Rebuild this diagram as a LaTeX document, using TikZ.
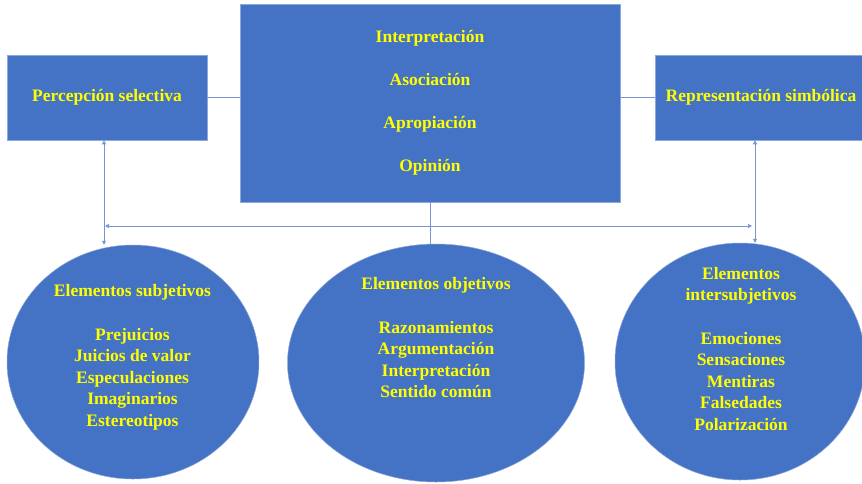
\documentclass[tikz,border=0pt]{standalone}
\usepackage{fontspec}
\setmainfont{Liberation Serif}
\usetikzlibrary{shapes.geometric,arrows.meta}
\definecolor{boxblue}{HTML}{4472C4}
\definecolor{edgeblue}{HTML}{8FA8DA}
\definecolor{linkblue}{HTML}{7396D6}
\definecolor{txtyellow}{HTML}{FFFF00}
\tikzset{
  bluebox/.style={rectangle, fill=boxblue, draw=edgeblue, line width=0.6pt, inner sep=0pt,
    text=txtyellow, font=\fontsize{17.5}{21.6}\selectfont\bfseries, align=center},
  blueoval/.style={ellipse, fill=boxblue, draw=edgeblue, line width=0.5pt, inner sep=0pt},
  ovaltext/.style={text=txtyellow, font=\fontsize{17.5}{21.6}\selectfont\bfseries, align=center, inner sep=0pt},
  link/.style={draw=linkblue, line width=0.7pt},
  dlink/.style={link, {Triangle[length=4pt,width=4pt]}-{Triangle[length=4pt,width=4pt]}}
}
\begin{document}
\begin{tikzpicture}[x=1pt,y=-1pt]
\useasboundingbox (0,0) rectangle (862,483);
\clip (0,0) rectangle (862,483);
% boxes
\node[bluebox, minimum width=200pt, minimum height=85pt] (L) at (107,97.5) {Percepción selectiva};
\node[bluebox, minimum width=380pt, minimum height=198pt, font=\fontsize{17.5}{43}\selectfont\bfseries] (C) at (430,103)
  {Interpretación\\Asociación\\Apropiación\\Opinión};
\node[bluebox, minimum width=212pt, minimum height=85pt] (R) at (761,97.5) {Representación simbólica};
% connector anchors
\coordinate (vl) at (104,0);
\coordinate (vr) at (755,0);
\coordinate (hl) at (105,226);
\coordinate (hr) at (752,226);
% ellipses
\node[blueoval, minimum width=252pt, minimum height=234pt] (E1) at (133,362) {};
\node[blueoval, minimum width=297pt, minimum height=238pt] (E2) at (436,363) {};
\node[blueoval, minimum width=250pt, minimum height=237pt] (E3) at (740,361.5) {};
% connectors
\draw[link] (L.east) -- (L.east -| C.west);
\draw[link] (R.west) -- (R.west -| C.east);
\draw[link] (C.south) -- (C.south |- E2.north);
\draw[dlink] (hl) -- (hr);
\draw[dlink] (vl |- L.south) -- (vl |- E1.north);
\draw[dlink] (vr |- R.south) -- (vr |- E3.north);
% ellipse texts
\node[ovaltext] (T1) at (132.5,357.5) {Elementos subjetivos\\[21.6pt]Prejuicios\\Juicios de valor\\Especulaciones\\Imaginarios\\Estereotipos};
\node[ovaltext] (T2) at (436,338) {Elementos objetivos\\[21.6pt]Razonamientos\\Argumentación\\Interpretación\\Sentido común};
\node[ovaltext] (T3) at (741,349) {Elementos\\intersubjetivos\\[21.6pt]Emociones\\Sensaciones\\Mentiras\\Falsedades\\Polarización};
\end{tikzpicture}
\end{document}
